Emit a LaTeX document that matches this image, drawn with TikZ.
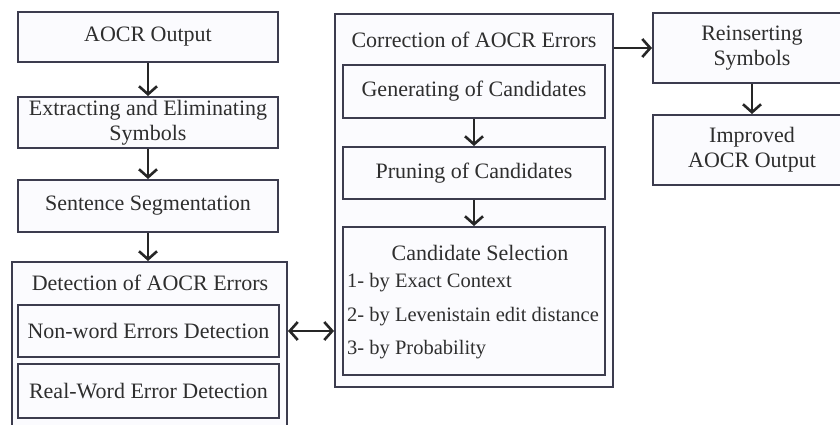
\documentclass[tikz,border=0pt]{standalone}
\usepackage{fontspec}
\setmainfont{Liberation Serif}
\usetikzlibrary{positioning,arrows.meta}
\definecolor{boxline}{HTML}{3C3C4E}
\definecolor{boxfill}{HTML}{FBFBFE}
\definecolor{txtgray}{HTML}{2E2E2E}
\tikzset{
	stage/.style={draw=boxline, fill=boxfill, line width=2pt, align=center, text=txtgray,
		font=\fontsize{22}{25}\selectfont, inner sep=0pt},
	group/.style={draw=boxline, fill=boxfill, line width=2pt, inner sep=0pt},
	grouptitle/.style={text=txtgray, font=\fontsize{22}{25}\selectfont, inner sep=0pt},
	item/.style={text=txtgray, font=\fontsize{20.5}{25}\selectfont, inner sep=0pt, anchor=west},
	flow/.style={-{Straight Barb[length=8pt,width=18pt]}, line width=2.6pt, black!85},
	dflow/.style={{Straight Barb[length=8pt,width=18pt]}-{Straight Barb[length=8pt,width=18pt]}, line width=2.6pt, black!85},
}

\begin{document}
\begin{tikzpicture}[x=1pt,y=-1pt]
	\useasboundingbox (0,0) rectangle (840,425);
	\clip (0,0) rectangle (840,425);
	
	% Left column
	\node[stage, minimum width=260, minimum height=50] (aocr) at (148,37) {AOCR Output};
	\node[stage, minimum width=260, minimum height=51] (extract) at (148,122.5) {Extracting and Eliminating\\Symbols};
	\node[stage, minimum width=260, minimum height=52] (sentseg) at (148,206) {Sentence Segmentation};
	
	% Detection group
	\node[group, minimum width=275, minimum height=188] (detect) at (149.5,356) {};
	\node[grouptitle] (detecttitle) at (150,283) {Detection of AOCR Errors};
	\node[stage, minimum width=261, minimum height=52] (nonword) at (148.5,331) {Non-word Errors Detection};
	\node[stage, minimum width=261, minimum height=54] (realword) at (148.5,391) {Real-Word Error Detection};
	
	% Correction group
	\node[group, minimum width=278, minimum height=373] (correct) at (474,200.5) {};
	\node[grouptitle] (correcttitle) at (474,40) {Correction of AOCR Errors};
	\node[stage, minimum width=262, minimum height=53] (gen) at (474,91.5) {Generating of Candidates};
	\node[stage, minimum width=262, minimum height=52] (prune) at (474,173) {Pruning of Candidates};
	\node[stage, minimum width=262, minimum height=148] (candsel) at (474,301) {};
	\node[grouptitle] (candtitle) at (480,253) {Candidate Selection};
	\node[item] (byexact) at (347,283) {1- by Exact Context};
	\node[item] (bylev) at (347,317) {2- by Levenistain edit distance};
	\node[item] (byprob) at (347,350) {3- by Probability};
	
	% Right column
	\node[stage, minimum width=198, minimum height=70] (reins) at (752,48) {Reinserting\\Symbols};
	\node[stage, minimum width=198, minimum height=70] (improved) at (752,150) {Improved\\AOCR Output};
	
	% Arrows
	\draw[flow] (aocr) -- (extract);
	\draw[flow] (extract) -- (sentseg);
	\draw[flow] (sentseg.south) -- (sentseg.south |- detect.north);
	\draw[flow] (gen) -- (prune);
	\draw[flow] (prune) -- (candsel);
	\draw[dflow] (detect.east |- nonword) -- (correct.west |- nonword);
	\draw[flow] (correct.east |- reins) -- (reins.west);
	\draw[flow] (reins) -- (improved);
\end{tikzpicture}
\end{document}
